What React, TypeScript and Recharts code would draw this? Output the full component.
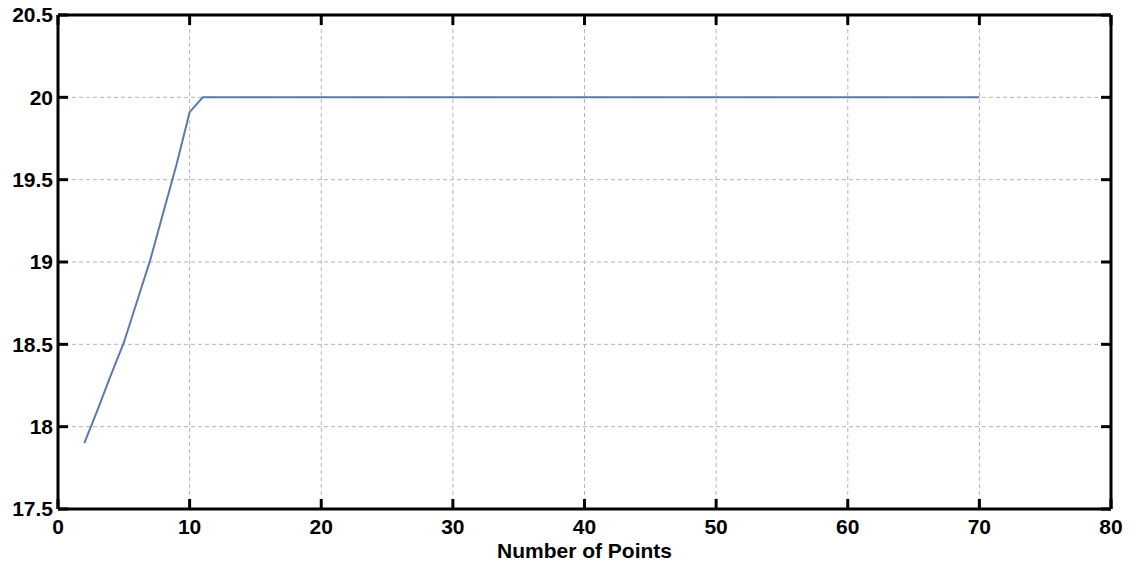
import React from 'react';
import { LineChart, Line, XAxis, YAxis, CartesianGrid } from 'recharts';

const pointCounts: number[] = [2, 3, 4, 5, 6, 7, 8, 9, 10, 11, 20, 30, 40, 50, 60, 70];
const values: number[] = [17.9, 18.1, 18.31, 18.51, 18.76, 19.01, 19.3, 19.59, 19.91, 20, 20, 20, 20, 20, 20, 20];
const xTicks: number[] = [0, 10, 20, 30, 40, 50, 60, 70, 80];
const yTicks: number[] = [17.5, 18, 18.5, 19, 19.5, 20, 20.5];
const xLabel = 'Number of Points';

const data = pointCounts.map((x, i) => ({ x, y: values[i] }));

const W = 1130;
const H = 567;
const M_TOP = 15;
const M_RIGHT = 19;
const Y_AXIS_W = 58;
const X_AXIS_H = 58;
const PLOT_TOP = M_TOP;
const PLOT_BOTTOM = H - X_AXIS_H;
const PLOT_LEFT = Y_AXIS_W;
const PLOT_RIGHT = W - M_RIGHT;
const TICK_LEN = 10;

const fontFamily = '"Liberation Sans", Arial, sans-serif';
const tickStyle = { fontFamily, fontWeight: 700, fontSize: 21, fill: '#000' };
const frame = { stroke: '#000', strokeWidth: 3 };

const XTick = (props: any) => {
  const { x, y, payload } = props;
  return (
    <g>
      <line x1={x} x2={x} y1={PLOT_BOTTOM} y2={PLOT_BOTTOM - TICK_LEN} stroke="#000" strokeWidth={3} />
      <line x1={x} x2={x} y1={PLOT_TOP} y2={PLOT_TOP + TICK_LEN} stroke="#000" strokeWidth={3} />
      <text x={x} y={y} dy="0.71em" textAnchor="middle" style={tickStyle}>
        {payload.value}
      </text>
    </g>
  );
};

const YTick = (props: any) => {
  const { x, y, payload } = props;
  return (
    <g>
      <line x1={PLOT_LEFT} x2={PLOT_LEFT + TICK_LEN} y1={y} y2={y} stroke="#000" strokeWidth={3} />
      <line x1={PLOT_RIGHT} x2={PLOT_RIGHT - TICK_LEN} y1={y} y2={y} stroke="#000" strokeWidth={3} />
      <text x={x} y={y} dy="0.355em" textAnchor="end" style={tickStyle}>
        {payload.value}
      </text>
    </g>
  );
};

export default function App() {
  return (
    <div style={{ position: 'absolute', left: 0, top: 0, width: W, height: H, background: '#fff' }}>
      <LineChart width={W} height={H} data={data} margin={{ top: M_TOP, right: M_RIGHT, left: 0, bottom: 0 }}>
        <CartesianGrid stroke="#b5b5b5" strokeDasharray="4 3" strokeWidth={1} />
        <XAxis
          xAxisId="top"
          orientation="top"
          dataKey="x"
          type="number"
          domain={[0, 80]}
          ticks={xTicks}
          allowDataOverflow
          mirror
          tick={false}
          tickLine={false}
          axisLine={frame}
        />
        <YAxis
          yAxisId="right"
          orientation="right"
          type="number"
          domain={[17.5, 20.5]}
          ticks={yTicks}
          allowDataOverflow
          mirror
          tick={false}
          tickLine={false}
          axisLine={frame}
        />
        <Line
          dataKey="y"
          type="linear"
          stroke="#5b79b1"
          strokeWidth={2}
          dot={false}
          isAnimationActive={false}
        />
        <XAxis
          dataKey="x"
          type="number"
          domain={[0, 80]}
          ticks={xTicks}
          allowDataOverflow
          height={X_AXIS_H}
          axisLine={frame}
          tickLine={false}
          tickSize={6}
          tickMargin={4}
          tick={<XTick />}
          interval={0}
          label={{ value: xLabel, position: 'insideBottom', offset: 9, style: tickStyle }}
        />
        <YAxis
          type="number"
          domain={[17.5, 20.5]}
          ticks={yTicks}
          allowDataOverflow
          width={Y_AXIS_W}
          axisLine={frame}
          tickLine={false}
          tickSize={5}
          tickMargin={0}
          tick={<YTick />}
          interval={0}
        />
      </LineChart>
    </div>
  );
}
